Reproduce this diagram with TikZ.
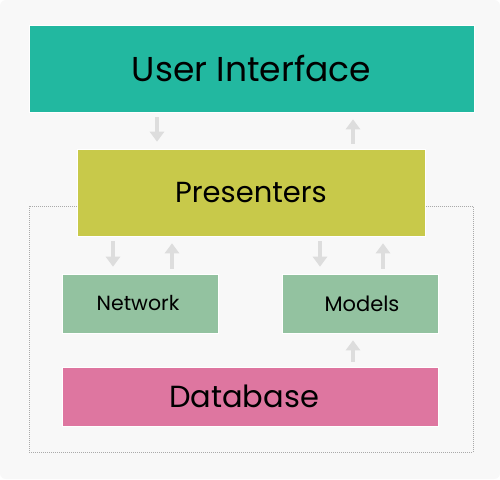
\documentclass[tikz,border=0pt]{standalone}
\usepackage{fontspec}
\setmainfont{Poppins}
\usetikzlibrary{arrows.meta}
\definecolor{bgc}{HTML}{F8F8F8}
\definecolor{uic}{HTML}{22B8A0}
\definecolor{prc}{HTML}{C8C94A}
\definecolor{grc}{HTML}{93C2A0}
\definecolor{dbc}{HTML}{DE76A0}
\definecolor{arc}{HTML}{DDDDDD}
\definecolor{dotc}{HTML}{AAAAAA}
\begin{document}
\begin{tikzpicture}[x=1pt,y=-1pt,
  layerbox/.style={draw=white, line width=0.6pt, inner sep=0pt, text=black},
  arr/.style={draw=arc, line width=4pt, -{Triangle[width=14pt,length=10pt]}, shorten <=5pt, shorten >=7pt}]
\useasboundingbox (0,0) rectangle (500,479);
\fill[white] (0,0) rectangle (500,479);
\fill[bgc, rounded corners=6pt] (0,0) rectangle (500,479);
\node[draw=dotc, dash pattern=on 1pt off 1pt, line width=1pt, minimum width=444pt, minimum height=246pt, inner sep=0pt] (outer) at (251,329) {};
\node[layerbox, fill=uic, minimum width=445pt, minimum height=87pt, font=\fontsize{34.5}{38}\selectfont] (ui) at (251.5,68.5) {User Interface};
\node[layerbox, fill=prc, minimum width=348pt, minimum height=87pt, font=\fontsize{29}{32}\selectfont] (pres) at (251,192.5) {Presenters};
\node[layerbox, fill=grc, minimum width=156pt, minimum height=59pt, font=\fontsize{20.5}{23}\selectfont] (net) at (140,303.5) {\raisebox{2pt}{\hspace*{-4pt}Network}};
\node[layerbox, fill=grc, minimum width=156pt, minimum height=59pt, font=\fontsize{21}{23}\selectfont] (mod) at (360,303.5) {\hspace*{4pt}Models};
\node[layerbox, fill=dbc, minimum width=376pt, minimum height=59pt, font=\fontsize{30.5}{33}\selectfont] (db) at (250,396.5) {\hspace*{-12pt}Database};
\coordinate (xa) at (157,0);
\coordinate (xb) at (353,0);
\coordinate (xc) at (113,0);
\coordinate (xd) at (172,0);
\coordinate (xe) at (320,0);
\coordinate (xf) at (383,0);
\draw[arr] (ui.south -| xa) -- (pres.north -| xa);
\draw[arr] (pres.north -| xb) -- (ui.south -| xb);
\draw[arr] (pres.south -| xc) -- (net.north -| xc);
\draw[arr] (net.north -| xd) -- (pres.south -| xd);
\draw[arr] (pres.south -| xe) -- (mod.north -| xe);
\draw[arr] (mod.north -| xf) -- (pres.south -| xf);
\draw[arr] (db.north -| xb) -- (mod.south -| xb);
\end{tikzpicture}
\end{document}
